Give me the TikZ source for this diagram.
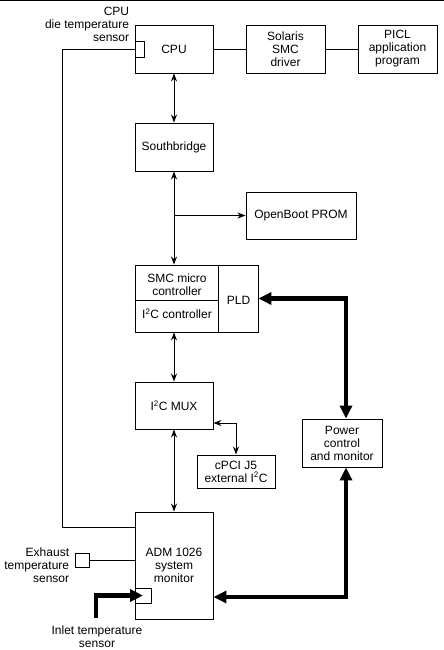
\documentclass[tikz,border=0pt]{standalone}
\usepackage{fontspec}
\setmainfont{Liberation Sans}
\usetikzlibrary{positioning,arrows.meta}

\begin{document}
\begin{tikzpicture}[
    x=1pt, y=1pt,
    node distance=98pt,
    font=\fontsize{12}{13}\selectfont,
    line width=0.9pt,
    block/.style={rectangle, draw, minimum width=78pt, minimum height=48pt, align=center},
    cell/.style={align=center, inner sep=0pt},
    sensor/.style={rectangle, draw, inner sep=0pt},
    arrow/.style={{Stealth[length=8pt,width=6pt]}-{Stealth[length=8pt,width=6pt]}},
    onearrow/.style={-{Stealth[length=8pt,width=6pt]}},
    bigarrow/.style={line width=4.5pt, {Triangle[length=13pt,width=12pt]}-{Triangle[length=13pt,width=12pt]}},
    inletarrow/.style={line width=4.5pt, -{Triangle[length=13pt,width=12pt]}}
]
\useasboundingbox (0,0) rectangle (444,-650);
\draw (0,-0.5) -- (444,-0.5);

% Top row
\node[block] (cpu) at (174,-49) {CPU};
\node[block, minimum width=79pt, right of=cpu, xshift=13.5pt] (sol) {Solaris\\SMC\\driver};
\node[block, minimum width=79pt, right of=sol, xshift=14pt] (picl) {PICL\\application\\program};
\node[sensor, minimum width=9pt, minimum height=16pt, anchor=west] (cpusens) at (cpu.west) {};
\node[anchor=south east, align=right, inner sep=0pt] (cpulabel) at ([xshift=-5pt,yshift=-2pt]cpusens.north west) {CPU\\die temperature\\sensor};

% Southbridge and PROM
\node[block, below of=cpu] (sb) {Southbridge};
\node[block, minimum width=110pt, minimum height=47pt, right of=sb, xshift=29pt, yshift=-68.5pt] (prom) {OpenBoot PROM};

% SMC / I2C controller / PLD
\node[rectangle, draw, minimum width=123pt, minimum height=67pt, below of=sb, xshift=22.5pt, yshift=-53.5pt] (smc) {};
\node[cell] (smcmicro) at ([xshift=-19.5pt,yshift=13.5pt]smc.center) {SMC micro\\controller};
\node[cell] (i2cctl) at ([xshift=-19.5pt,yshift=-15pt]smc.center) {I\textsuperscript{2}C controller};
\node[cell] (pld) at ([xshift=42pt,yshift=-2pt]smc.center) {PLD};
\draw ([xshift=84pt]smc.north west) -- ([xshift=84pt]smc.south west);
\draw ([yshift=-36pt]smc.north west) -- ([xshift=84pt,yshift=-36pt]smc.north west);

% MUX, cPCI, power
\node[block, minimum height=47pt, below of=smc, xshift=-22.5pt, yshift=-9pt] (mux) {I\textsuperscript{2}C MUX};
\node[block, minimum height=33pt, below of=mux, xshift=62pt, yshift=32pt] (cpci) {cPCI J5\\external I\textsuperscript{2}C};
\node[block, minimum width=80pt, right of=mux, xshift=70pt, yshift=-37.5pt] (power) {Power\\control\\and monitor};

% System monitor and sensors
\node[block, minimum height=107pt, below of=mux, yshift=-62pt] (adm) {ADM 1026\\system\\monitor};
\node[sensor, minimum width=14pt, minimum height=14pt, left of=adm, xshift=6pt, yshift=5.5pt] (exhsens) {};
\node[anchor=east, align=right, inner sep=0pt] (exhlabel) at ([xshift=-5pt,yshift=-5pt]exhsens.west) {Exhaust\\temperature\\sensor};
\node[sensor, minimum width=16pt, minimum height=15pt, anchor=west] (inletsens) at ([yshift=-30pt]adm.west) {};
\coordinate (inletin) at (96,-618);
\node[anchor=north, align=center, inner sep=0pt] (inletlabel) at ([xshift=1pt,yshift=-7pt]inletin) {Inlet temperature\\sensor};

% Connectors
\draw (cpu) -- (sol);
\draw (sol) -- (picl);
\draw[arrow] (cpu) -- (sb);
\draw[arrow] (sb.south) -- (sb.south |- smc.north);
\draw[onearrow] (sb.south |- prom.west) -- (prom.west);
\draw[arrow] (mux.north |- smc.south) -- (mux.north);
\draw[arrow] (mux) -- (adm);
\draw[arrow] ([yshift=-17.5pt]mux.east) -| (cpci.north);
\draw (cpusens.west) -- ++(-72pt,0) |- ([yshift=38.5pt]adm.west);
\draw (exhsens.east) -- (adm.west |- exhsens.east);

% Thick connectors
\draw[bigarrow] (smc.east) -| ([xshift=4pt]power.north);
\draw[bigarrow] ([xshift=4pt]power.south) |- ([yshift=-31.5pt]adm.east);
\draw[inletarrow] (inletin) |- (inletsens.center);

\end{tikzpicture}
\end{document}
